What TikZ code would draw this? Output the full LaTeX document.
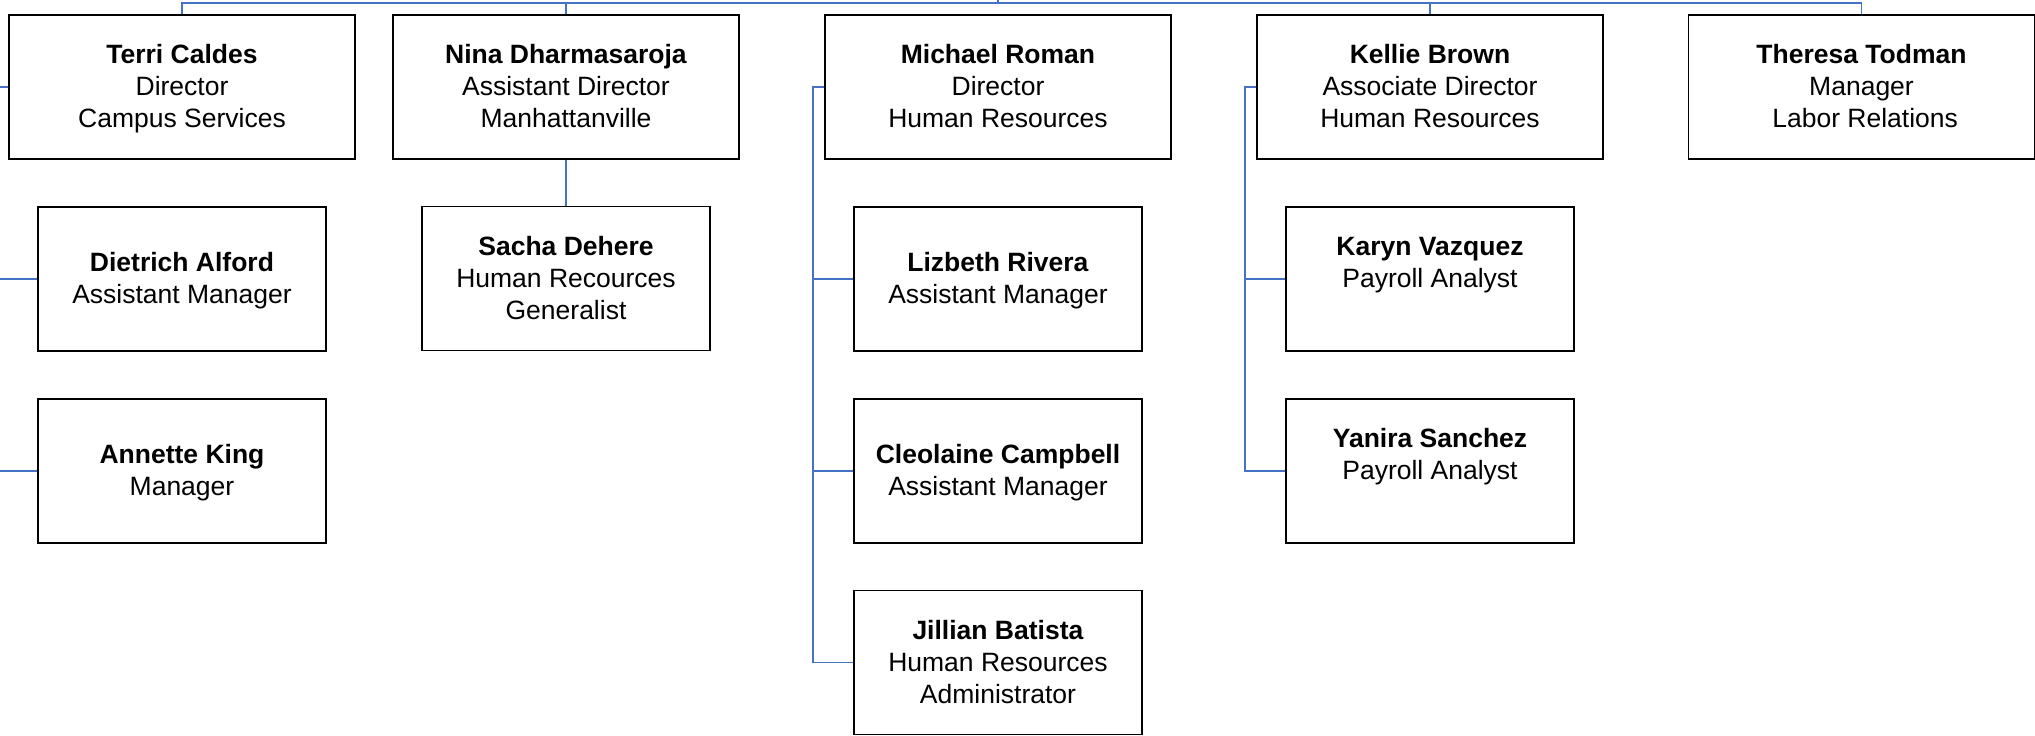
\documentclass[tikz,border=0pt]{standalone}
\usepackage{fontspec}
\setmainfont{Liberation Sans}
\definecolor{connblue}{RGB}{68,114,196}
\newcommand{\topstrut}{\rule{0pt}{13.4pt}}
\begin{document}
\begin{tikzpicture}[x=0.5pt,y=-0.5pt,
  person/.style={draw=black,line width=0.8pt,fill=white,rectangle,inner sep=0pt,
    align=center,font=\fontsize{13.25pt}{16pt}\selectfont},
  headbox/.style={person,minimum width=173pt,minimum height=72pt},
  subbox/.style={person,minimum width=144pt,minimum height=72pt},
  conn/.style={draw=connblue,line width=0.6pt}]
\useasboundingbox (0,0) rectangle (2035,735);
% top row
\node[headbox] (terri) at (182,87) {\topstrut\textbf{Terri Caldes}\\Director\\Campus Services\strut};
\node[headbox] (nina) at (566,87) {\topstrut\textbf{Nina Dharmasaroja}\\Assistant Director\\Manhattanville\strut};
\node[headbox] (michael) at (998,87) {\topstrut\textbf{Michael Roman}\\Director\\Human Resources\strut};
\node[headbox] (kellie) at (1430,87) {\topstrut\textbf{Kellie Brown}\\Associate Director\\Human Resources\strut};
\node[headbox] (theresa) at (1861.5,87) {\topstrut\textbf{Theresa Todman}\\Manager\\\ Labor Relations\strut};
% children
\node[subbox] (dietrich) at (182,279) {\topstrut\textbf{Dietrich Alford}\\Assistant Manager\strut};
\node[subbox] (annette) at (182,471) {\topstrut\textbf{Annette King}\\Manager\strut};
\node[subbox] (sacha) at (566,278.5) {\topstrut\textbf{Sacha Dehere}\\Human Recources\\Generalist\strut};
\node[subbox] (lizbeth) at (998,279) {\topstrut\textbf{Lizbeth Rivera}\\Assistant Manager\strut};
\node[subbox] (cleolaine) at (998,471) {\topstrut\textbf{Cleolaine Campbell}\\Assistant Manager\strut};
\node[subbox] (jillian) at (998,662.5) {\topstrut\textbf{Jillian Batista}\\Human Resources\\Administrator\strut};
\node[subbox] (karyn) at (1430,279) {\topstrut\textbf{Karyn Vazquez}\\Payroll Analyst\\\strut};
\node[subbox] (yanira) at (1430,471) {\topstrut\textbf{Yanira Sanchez}\\Payroll Analyst\\\strut};
% bus
\coordinate (bus) at (998,3);
\coordinate (up) at (998,0);
\draw[conn] (bus) -- (up);
\draw[conn] (terri.north) |- (bus) -| (theresa.north);
\draw[conn] (nina.north) -- (nina.north |- bus);
\draw[conn] (kellie.north) -- (kellie.north |- bus);
% Terri's reports (vertical off the left edge)
\coordinate (tv) at (-4,87);
\draw[conn] (terri.west) -- (tv) |- (annette.west);
\draw[conn] (tv |- dietrich.west) -- (dietrich.west);
% Nina
\draw[conn] (nina.south) -- (sacha.north);
% Michael
\coordinate (mv) at (813,87);
\draw[conn] (michael.west) -- (mv) |- (jillian.west);
\draw[conn] (mv |- lizbeth.west) -- (lizbeth.west);
\draw[conn] (mv |- cleolaine.west) -- (cleolaine.west);
% Kellie
\coordinate (kv) at (1245,87);
\draw[conn] (kellie.west) -- (kv) |- (yanira.west);
\draw[conn] (kv |- karyn.west) -- (karyn.west);
\end{tikzpicture}
\end{document}
